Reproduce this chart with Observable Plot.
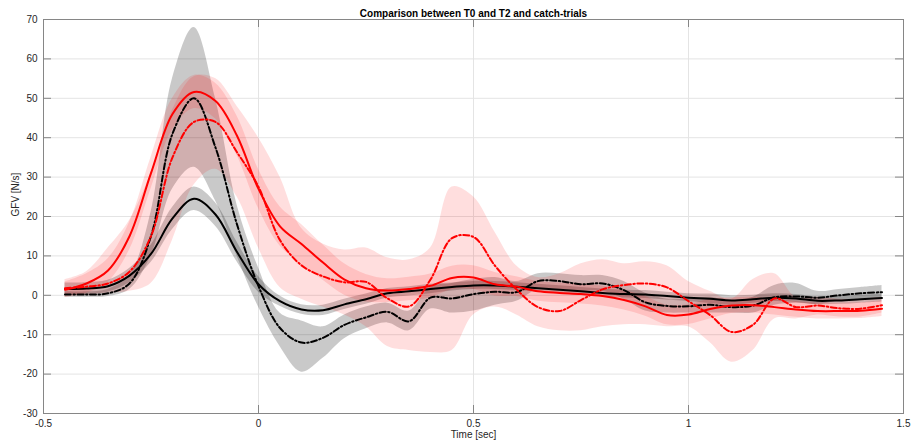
<!DOCTYPE html>
<html>
<head>
<meta charset="utf-8">
<script src="https://cdn.jsdelivr.net/npm/d3@7"></script>
<script src="https://cdn.jsdelivr.net/npm/@observablehq/plot@0.6"></script>
<style>
  body { margin: 0; background: #fff; }
  #chart svg { font-family: "Liberation Sans", Arial, Helvetica, sans-serif; }
</style>
</head>
<body>
<div id="chart"></div>
<script>
// Time axis of the averaged grip-force-velocity traces (s)
const time = [-0.45, -0.40, -0.35, -0.30, -0.25, -0.20, -0.15, -0.10, -0.05, 0.00,
  0.05, 0.10, 0.15, 0.20, 0.25, 0.30, 0.35, 0.40, 0.45, 0.50,
  0.55, 0.60, 0.65, 0.70, 0.75, 0.80, 0.85, 0.90, 0.95, 1.00,
  1.05, 1.10, 1.15, 1.20, 1.25, 1.30, 1.35, 1.40, 1.45];

// Black solid trace and its band
const blackSolid = [1.6, 1.7, 2.3, 5.0, 10.5, 19.5, 24.5, 20.5, 11, 2.8,
  -1.5, -3.6, -3.8, -2.3, -1.0, 0.5, 1.0, 1.6, 2.1, 2.5,
  2.5, 2.2, 1.8, 1.4, 1.0, 0.6, 0.3, 0.2, -0.2, -0.6,
  -0.9, -1.3, -1.0, -0.6, -0.8, -1.4, -1.3, -1.0, -0.7];
const blackSolidLo = [0.1, 0.2, 0.8, 3.2, 8.3, 16.7, 21.5, 17.5, 8.5, 0.8,
  -2.8, -4.8, -5.1, -3.6, -2.3, -0.7, -0.2, 0.4, 1.1, 1.5,
  1.5, 1.2, 0.8, 0.4, 0, -0.4, -0.7, -0.8, -1.2, -1.6,
  -2.1, -2.5, -2, -1.6, -1.8, -2.4, -2.3, -2, -1.7];
const blackSolidHi = [3.1, 3.2, 3.8, 6.8, 12.7, 22.3, 27.5, 23.5, 13.5, 4.8,
  -0.2, -2.4, -2.5, -1.0, 0.3, 1.7, 2.2, 2.8, 3.1, 3.5,
  3.5, 3.2, 2.8, 2.4, 2, 1.6, 1.3, 1.2, 0.8, 0.4,
  0.3, -0.1, 0, 0.4, 0.2, -0.4, -0.3, 0, 0.3];

// Black dash-dot trace and its band
const blackDash = [0.2, 0.2, 0.5, 3.0, 15, 41, 50, 37.5, 18, 2.3,
  -8.3, -12, -10.8, -7.5, -5.6, -4.2, -6.6, -0.6, -0.8, 0.3,
  0.9, 0.8, 3.6, 3.6, 2.8, 3.0, 1.3, -1.8, -2.7, -2.8,
  -2.4, -3.0, -2.6, -0.5, -0.3, -0.6, 0, 0.5, 0.8];
const blackDashLo = [-0.5, -0.5, -0.3, 1.5, 10, 27, 32.5, 24, 10, -3,
  -13, -19.5, -16, -11, -8.5, -7, -9, -3.5, -4.5, -4,
  -2.5, -1.5, 1.5, 1.5, 1, 1, -1, -4, -4.5, -4.5,
  -4.5, -4.5, -4.5, -2.5, -2, -2.3, -1.5, -1, -0.8];
const blackDashHi = [0.9, 0.9, 1.5, 5, 21, 55, 68, 50, 23, 7,
  -4.5, -6.5, -8, -5, -3, -2, -4, 2, 3, 4,
  4.5, 3.5, 5.5, 5.5, 5, 5, 3.5, 0.5, -1, -1,
  -0.5, -1.5, -0.5, 2.5, 3, 1, 1.5, 2, 2.5];

// Red solid trace and its band
const redSolid = [1.4, 3.0, 6.3, 15, 31, 46, 51.6, 49.3, 40.5, 27,
  17.5, 13, 8.3, 4.0, 1.8, 1.2, 1.6, 2.4, 4.4, 4.5,
  2.8, 2.2, 1.0, 0.6, 0.3, -0.2, -1.2, -2.8, -5.0, -4.9,
  -3.5, -2.6, -2.5, -3.0, -3.6, -4.0, -4.0, -3.9, -3.4];
const redSolidLo = [-0.6, 0.5, 3.3, 11.5, 27, 42, 47.4, 44.8, 35.5, 22,
  12.5, 8, 3.8, 0, -1.7, -1.8, -1.4, -0.6, 1.4, 1.5,
  -0.2, -0.3, -1.5, -1.9, -2.2, -2.7, -3.7, -5.3, -7.5, -7.4,
  -6, -4.6, -4.5, -5, -5.6, -6, -6, -5.9, -5.4];
const redSolidHi = [3.4, 5.5, 9.3, 18.5, 35, 50, 55.8, 53.8, 45.5, 32,
  22.5, 18, 12.8, 8, 5.3, 4.2, 4.6, 5.4, 7.4, 7.5,
  5.8, 4.7, 3.5, 3.1, 2.8, 2.3, 1.3, -0.3, -2.5, -2.4,
  -1, -0.6, -0.5, -1, -1.6, -2, -2, -1.9, -1.4];

// Red dash-dot trace and its band
const redDash = [1.8, 2.2, 3.0, 6.0, 15, 35, 44, 44, 36.3, 27.5,
  14, 7.6, 4.8, 3.3, 3.4, -0.8, -2.8, 4.0, 14.5, 14.8,
  7.5, 1.5, -3.0, -4.0, -1.2, 1.5, 2.6, 3.0, 2.0, -1.5,
  -5.0, -9.3, -7.5, -0.8, -3.0, -2.6, -3.3, -3.4, -2.5];
const redDashLo = [0, 0, 0.5, 1, 3, 14, 28, 32, 25, 12,
  2, -1, -3, -5, -8, -13, -14, -14.5, -14, -5,
  -3, -5, -8, -9, -9, -8, -7.5, -7.5, -8, -8,
  -12, -17, -14, -6, -6, -5, -5.5, -5.5, -4.5];
const redDashHi = [4, 6, 12, 19, 31, 47, 55.5, 55, 48, 40,
  30, 17, 13, 11.5, 12, 9.5, 9, 12, 27.5, 25,
  16, 7.5, 4.5, 5.5, 8, 9, 8, 8.5, 7.5, 3.5,
  1, -1, 4, 5.5, -0.5, -0.5, -1, -1, -0.5];

// Axis ticks
const xTicks = [-0.5, 0, 0.5, 1, 1.5];
const yTicks = [-30, -20, -10, 0, 10, 20, 30, 40, 50, 60, 70];

const titleText = "Comparison between T0 and T2 and catch-trials";
const xLabel = "Time [sec]";
const yLabel = "GFV [N/s]";

const rows = time.map((t, i) => ({
  t,
  bs: blackSolid[i], bsLo: blackSolidLo[i], bsHi: blackSolidHi[i],
  bd: blackDash[i], bdLo: blackDashLo[i], bdHi: blackDashHi[i],
  rs: redSolid[i], rsLo: redSolidLo[i], rsHi: redSolidHi[i],
  rd: redDash[i], rdLo: redDashLo[i], rdHi: redDashHi[i]
}));

const W = 912, H = 447;
const mL = 43, mR = 9, mT = 19, mB = 34;
const frameW = W - mL - mR, frameH = H - mT - mB;
const tickLen = 8;
const curve = "catmull-rom";
const dashDot = "6,2.5,1.5,2.5";
const axisColor = "#868686";
const textColor = "#262626";
const fmt = d => String(d);

const chart = Plot.plot({
  width: W,
  height: H,
  marginLeft: mL,
  marginRight: mR,
  marginTop: mT,
  marginBottom: mB,
  style: { fontFamily: "Liberation Sans, Arial, Helvetica, sans-serif", fontSize: "10px", background: "#fff" },
  x: { domain: [-0.5, 1.5], label: null },
  y: { domain: [-30, 70], label: null },
  marks: [
    Plot.gridX(xTicks, { stroke: "#e4e4e4", strokeOpacity: 1 }),
    Plot.gridY(yTicks, { stroke: "#e4e4e4", strokeOpacity: 1 }),

    // shaded bands
    Plot.areaY(rows, { x: "t", y1: "bdLo", y2: "bdHi", fill: "black", fillOpacity: 0.21, curve }),
    Plot.areaY(rows, { x: "t", y1: "bsLo", y2: "bsHi", fill: "black", fillOpacity: 0.21, curve }),
    Plot.areaY(rows, { x: "t", y1: "rsLo", y2: "rsHi", fill: "red", fillOpacity: 0.13, curve }),
    Plot.areaY(rows, { x: "t", y1: "rdLo", y2: "rdHi", fill: "red", fillOpacity: 0.13, curve }),

    // mean traces
    Plot.line(rows, { x: "t", y: "bs", stroke: "black", strokeWidth: 2, curve }),
    Plot.line(rows, { x: "t", y: "bd", stroke: "black", strokeWidth: 2, strokeDasharray: dashDot, curve }),
    Plot.line(rows, { x: "t", y: "rs", stroke: "red", strokeWidth: 2, curve }),
    Plot.line(rows, { x: "t", y: "rd", stroke: "red", strokeWidth: 2, strokeDasharray: dashDot, curve }),

    // box and inward ticks on all four sides
    Plot.frame({ stroke: axisColor }),
    Plot.tickX(xTicks, { x: d => d, insetTop: frameH - tickLen, stroke: axisColor }),
    Plot.tickX(xTicks, { x: d => d, insetBottom: frameH - tickLen, stroke: axisColor }),
    Plot.tickY(yTicks, { y: d => d, insetRight: frameW - tickLen, stroke: axisColor }),
    Plot.tickY(yTicks, { y: d => d, insetLeft: frameW - tickLen, stroke: axisColor }),

    Plot.axisX(xTicks, { anchor: "bottom", tickSize: 0, tickPadding: 6, tickFormat: fmt, fill: textColor, label: null }),
    Plot.axisY(yTicks, { anchor: "left", tickSize: 0, tickPadding: 6, tickFormat: fmt, fill: textColor, label: null }),

    Plot.text([titleText], { frameAnchor: "top", dy: -10, fontWeight: "bold", fontSize: 10, fill: "#000" }),
    Plot.text([xLabel], { frameAnchor: "bottom", dy: 24, fontSize: 10, fill: textColor }),
    Plot.text([yLabel], { frameAnchor: "left", dx: -28, rotate: -90, fontSize: 10, fill: textColor })
  ]
});

document.getElementById("chart").appendChild(chart);
</script>
</body>
</html>
